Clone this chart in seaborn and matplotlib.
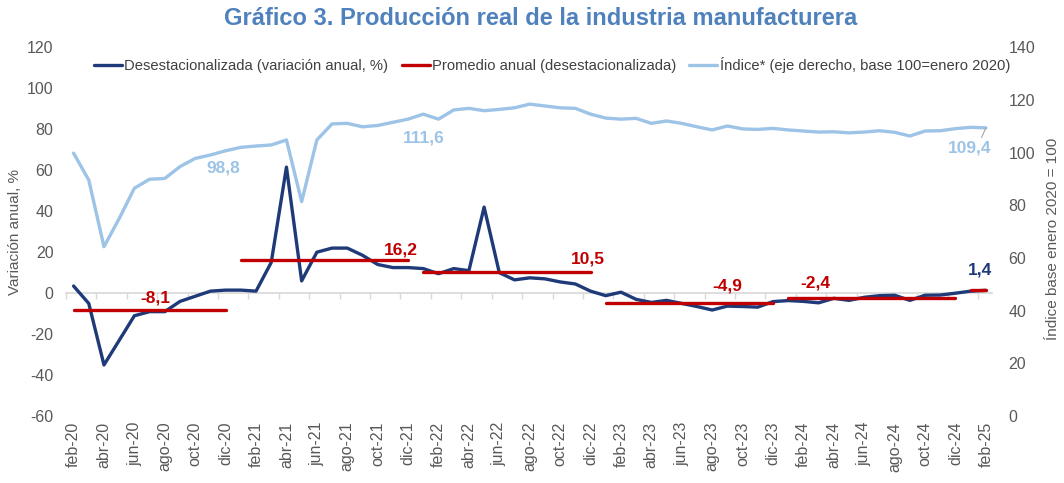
import numpy as np
import pandas as pd
import matplotlib
matplotlib.use("Agg")
import matplotlib.pyplot as plt
import seaborn as sns

# meses feb-20 .. feb-25
meses_abrev = ["ene", "feb", "mar", "abr", "may", "jun", "jul", "ago", "sep", "oct", "nov", "dic"]
fechas = pd.date_range("2020-02-01", "2025-02-01", freq="MS")

# variacion anual desestacionalizada (%)
var_anual = [3.5, -5, -35, -23, -11, -9, -9, -4, -1.5, 1, 1.5,
             1.5, 1, 15, 61.5, 6, 20, 22, 22, 18.5, 14, 12.5, 12.5,
             12, 9.5, 12, 11, 42, 10, 6.5, 7.5, 7, 5.5, 4.5, 1,
             -1.2, 0.5, -3, -4.5, -3.5, -5, -6.5, -8.2, -6.3, -6.5, -6.8, -4.1,
             -3.6, -4, -4.7, -2.5, -3.5, -2, -1.2, -1, -3.5, -1, -0.9, 0,
             1.0, 1.4]

# indice (eje derecho, base 100 = enero 2020)
indice = [99.8, 89.6, 64.3, 75, 86.5, 89.9, 90.2, 94.7, 97.8, 99.1, 100.7,
          102, 102.5, 102.9, 104.8, 81.4, 104.8, 110.9, 111.1, 109.8, 110.3, 111.5, 112.7,
          114.6, 112.7, 116.2, 116.8, 115.9, 116.4, 117, 118.4, 117.7, 117, 116.8, 114.6,
          113.1, 112.7, 113, 111.1, 112, 111.1, 109.8, 108.6, 110.1, 109, 108.8, 109.2,
          108.6, 108.2, 107.8, 107.9, 107.5, 107.8, 108.3, 107.7, 106.3, 108.2, 108.3, 109.1,
          109.6, 109.4]

# promedio anual
anios_prom = [2020, 2021, 2022, 2023, 2024, 2025]
prom_anual = [-8.1, 16.2, 10.5, -4.9, -2.4, 1.4]
etiq_prom = ["-8,1", "16,2", "10,5", "-4,9", "-2,4"]

AZUL = "#1F3A78"
ROJO = "#C00000"
CELESTE = "#9DC3E6"
GRIS = "#595959"

df = pd.DataFrame({"mes": np.arange(len(fechas)), "var": var_anual,
                   "indice": indice, "anio": fechas.year})
df["prom"] = df["anio"].map(dict(zip(anios_prom, prom_anual)))
etiquetas = [f"{meses_abrev[f.month - 1]}-{str(f.year)[2:]}" for f in fechas]

sns.set_theme(style="white")
plt.rcParams['font.family'] = ['Liberation Sans', 'DejaVu Sans']
plt.rcParams['axes.unicode_minus'] = False

fig = plt.figure(figsize=(10.64, 4.83), dpi=100)
ax = fig.add_axes([0.062, 0.1383, 0.8703, 0.764])

sns.lineplot(data=df, x="mes", y="var", ax=ax, color=AZUL, lw=2.4, legend=False)
for anio, g in df.groupby("anio"):
    sns.lineplot(data=g, x="mes", y="prom", ax=ax, color=ROJO, lw=2.4, legend=False)

ax.set_xlim(-0.5, 60.4)
ax.set_ylim(-60, 120)
ax.set_yticks(range(-60, 121, 20))
ax.set_xticks(df["mes"][::2])
ax.set_xticklabels(etiquetas[::2], rotation=90)
ax.tick_params(axis="both", length=0, colors=GRIS, labelsize=11.5)
ax.tick_params(axis="y", pad=9)
ax.tick_params(axis="x", pad=4)
ax.set_xlabel("")
ax.set_ylabel("Variación anual, %", fontsize=11, color=GRIS)
ax.yaxis.set_label_coords(-0.047, 0.5)
for s in ax.spines.values():
    s.set_visible(False)

# linea del cero con marcas
pos0 = (0 - ax.get_ylim()[0]) / (ax.get_ylim()[1] - ax.get_ylim()[0])
sec = ax.secondary_xaxis(pos0)
sec.set_xticks(np.arange(-0.5, 61, 2))
sec.tick_params(axis="x", length=4, color="#D9D9D9", width=1,
                labelbottom=False, labeltop=False, direction="out")
for s in sec.spines.values():
    s.set_color("#D9D9D9")

ax2 = ax.twinx()
sns.lineplot(data=df, x="mes", y="indice", ax=ax2, color=CELESTE, lw=2.4, legend=False)
ax2.set_ylim(0, 140)
ax2.set_yticks(range(0, 141, 20))
ax2.tick_params(axis="y", length=0, colors=GRIS, labelsize=11.5, pad=12)
ax2.set_ylabel("Índice base enero 2020 = 100", fontsize=11, color=GRIS, rotation=90)
ax2.yaxis.set_label_coords(1.058, 0.48)
for s in ax2.spines.values():
    s.set_visible(False)

# etiquetas de promedios
pos_etq = [(5.4, -2.3), (21.5, 21.1), (33.8, 16.5), (43.0, 3.5), (48.8, 4.8)]
for (xx, yy), t in zip(pos_etq, etiq_prom):
    ax.text(xx, yy, t, color=ROJO, fontsize=12.5, fontweight="bold", ha="center", va="center")
ax.text(59.6, 11.3, "1,4", color=AZUL, fontsize=12.5, fontweight="bold", ha="center", va="center")

ax2.text(9.85, 94.3, "98,8", color=CELESTE, fontsize=12.5, fontweight="bold", ha="center", va="center")
ax2.text(23.0, 105.7, "111,6", color=CELESTE, fontsize=12.5, fontweight="bold", ha="center", va="center")
ax2.annotate("109,4", xy=(60, indice[-1]), xytext=(58.9, 101.6), color=CELESTE,
             fontsize=12.5, fontweight="bold", ha="center", va="center",
             arrowprops=dict(arrowstyle="-", color="#A6A6A6", lw=0.8,
                             shrinkA=0, shrinkB=0, relpos=(0.75, 1.0)))

handles = [ax.lines[0], ax.lines[1], ax2.lines[0]]
labels = ["Desestacionalizada (variación anual, %)",
          "Promedio anual (desestacionalizada)",
          "Índice* (eje derecho, base 100=enero 2020)"]
leg = ax2.legend(handles, labels, loc="center", bbox_to_anchor=(0.525, 0.952), ncol=3,
                 frameon=False, fontsize=10.6, handlelength=1.9, handletextpad=0.15,
                 columnspacing=0.9)
for t in leg.get_texts():
    t.set_color("#404040")

fig.text(0.508, 0.962, "Gráfico 3. Producción real de la industria manufacturera",
         ha="center", va="center", fontsize=17, fontweight="bold", color="#4F81BD")

fig.savefig("out.png", dpi=100)
